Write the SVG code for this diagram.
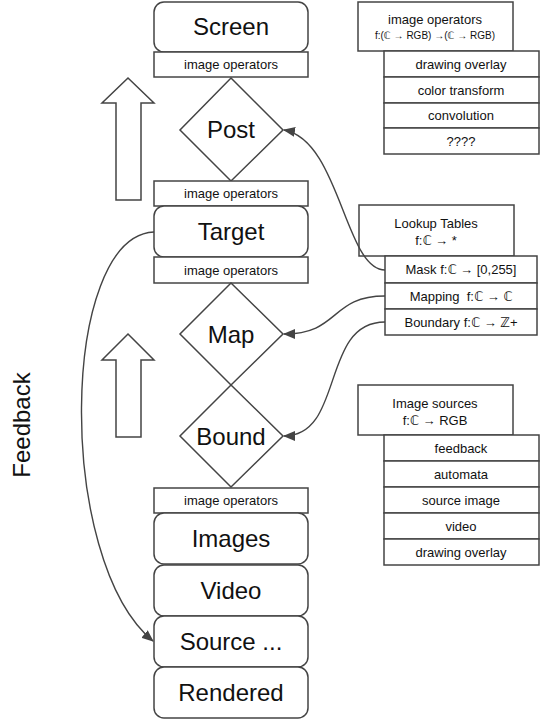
<svg xmlns="http://www.w3.org/2000/svg" width="540" height="720" viewBox="0 0 540 720">
<defs>
<style>
.b{fill:#fff;stroke:#444;stroke-width:1.5}
.big{font-family:"Liberation Sans",Arial,"DejaVu Sans",sans-serif;font-size:24px;fill:#111;text-anchor:middle}
.sm{font-family:"Liberation Sans",Arial,"DejaVu Sans",sans-serif;font-size:13px;fill:#111;text-anchor:middle}
.xs{font-family:"Liberation Sans",Arial,"DejaVu Sans",sans-serif;font-size:10px;fill:#111;text-anchor:middle}
.c{fill:none;stroke:#444;stroke-width:1.4}
</style>
<marker id="ah" viewBox="0 0 12 10" refX="11" refY="5" markerWidth="12" markerHeight="10" markerUnits="userSpaceOnUse" orient="auto">
<path d="M0,0 L12,5 L0,10 Z" fill="#444"/>
</marker>
</defs>
<rect width="540" height="720" fill="#fff"/>

<g id="screen"><rect class="b" x="154" y="2" width="154" height="50" rx="10"/><text class="big" x="231" y="35">Screen</text></g>
<g id="op1"><rect class="b" x="154" y="52" width="154" height="25"/><text class="sm" x="231" y="69">image operators</text></g>
<g id="post"><path class="b" d="M231,78 L283,130 L231,181 L180,130 Z"/><text class="big" x="231" y="138">Post</text></g>
<g id="op2"><rect class="b" x="154" y="181" width="154" height="25"/><text class="sm" x="231" y="198">image operators</text></g>
<g id="target"><rect class="b" x="154" y="206" width="154" height="51" rx="10"/><text class="big" x="231" y="240">Target</text></g>
<g id="op3"><rect class="b" x="154" y="257" width="154" height="26"/><text class="sm" x="231" y="275">image operators</text></g>
<g id="map"><path class="b" d="M231,283 L283,334 L231,385 L180,334 Z"/><text class="big" x="231" y="343">Map</text></g>
<g id="bound"><path class="b" d="M231,385 L283,436 L231,487 L180,436 Z"/><text class="big" x="231" y="445">Bound</text></g>
<g id="op4"><rect class="b" x="154" y="488" width="154" height="25"/><text class="sm" x="231" y="505">image operators</text></g>
<g id="images"><rect class="b" x="154" y="513" width="154" height="51" rx="10"/><text class="big" x="231" y="547">Images</text></g>
<g id="video"><rect class="b" x="154" y="565" width="154" height="51" rx="10"/><text class="big" x="231" y="599">Video</text></g>
<g id="source"><rect class="b" x="154" y="616" width="154" height="51" rx="10"/><text class="big" x="231" y="650">Source ...</text></g>
<g id="rendered"><rect class="b" x="154" y="667" width="154" height="51" rx="10"/><text class="big" x="231" y="701">Rendered</text></g>

<g id="uparrow1"><path class="b" d="M128,78 L154,103 L141,103 L141,200 L116,200 L116,103 L102,103 Z"/></g>
<g id="uparrow2"><path class="b" d="M128,334 L154,360 L141,360 L141,437 L116,437 L116,360 L102,360 Z"/></g>

<g id="feedback-label"><text class="big" transform="translate(30,425) rotate(-90)">Feedback</text></g>

<g id="imgops">
<rect class="b" x="358" y="2" width="155" height="49"/>
<text class="sm" x="435" y="24">image operators</text>
<text class="xs" x="435" y="39">f:(ℂ → RGB) →(ℂ → RGB)</text>
<rect class="b" x="384" y="51" width="155" height="26"/><text class="sm" x="461" y="69">drawing overlay</text>
<rect class="b" x="384" y="77" width="155" height="26"/><text class="sm" x="461" y="95">color transform</text>
<rect class="b" x="384" y="103" width="155" height="25"/><text class="sm" x="461" y="120">convolution</text>
<rect class="b" x="384" y="128" width="155" height="26"/><text class="sm" x="461" y="146">????</text>
</g>

<g id="lookup">
<rect class="b" x="359" y="205" width="155" height="51"/>
<text class="sm" x="436" y="228">Lookup Tables</text>
<text class="sm" x="436" y="245">f:ℂ → *</text>
<rect class="b" x="385" y="256" width="152" height="27"/><text class="sm" x="461" y="274">Mask f:ℂ → [0,255]</text>
<rect class="b" x="385" y="283" width="152" height="26"/><text class="sm" x="461" y="301">Mapping &#160;f:ℂ → ℂ</text>
<rect class="b" x="385" y="309" width="152" height="26"/><text class="sm" x="461" y="327">Boundary f:ℂ → ℤ+</text>
</g>

<g id="sources">
<rect class="b" x="358" y="385" width="155" height="50"/>
<text class="sm" x="435" y="408">Image sources</text>
<text class="sm" x="435" y="425">f:ℂ → RGB</text>
<rect class="b" x="384" y="435" width="155" height="26"/><text class="sm" x="461" y="453">feedback</text>
<rect class="b" x="384" y="461" width="155" height="26"/><text class="sm" x="461" y="479">automata</text>
<rect class="b" x="384" y="487" width="155" height="26"/><text class="sm" x="461" y="505">source image</text>
<rect class="b" x="384" y="513" width="155" height="26"/><text class="sm" x="461" y="531">video</text>
<rect class="b" x="384" y="539" width="155" height="26"/><text class="sm" x="461" y="557">drawing overlay</text>
</g>

<g id="connectors">
<path class="c" d="M385,270 C345,270 340,140 284,130" marker-end="url(#ah)"/>
<path class="c" d="M385,296 C330,296 340,334 284,334" marker-end="url(#ah)"/>
<path class="c" d="M385,322 C320,322 345,436 284,436" marker-end="url(#ah)"/>
<path class="c" d="M154,232 C60,236 55,560 153,641" marker-end="url(#ah)"/>
</g>
</svg>
